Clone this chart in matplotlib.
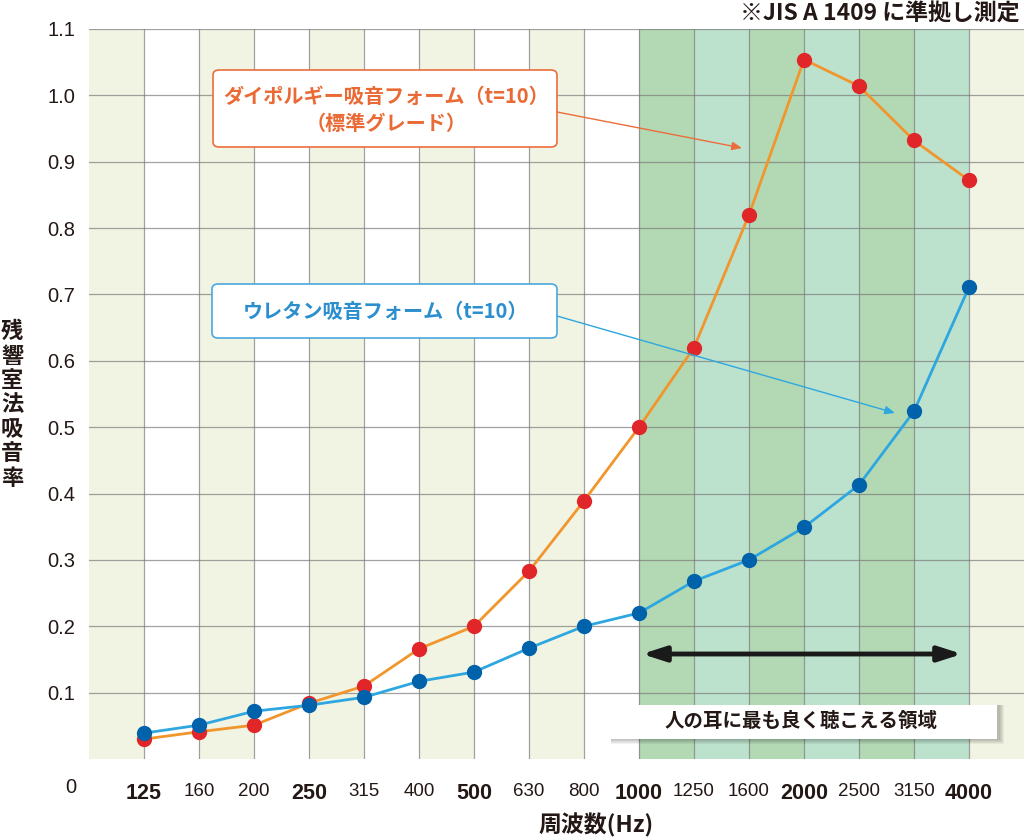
import numpy as np
import matplotlib
matplotlib.use('Agg')
import matplotlib.pyplot as plt
from matplotlib.patches import FancyBboxPatch, Rectangle, FancyArrowPatch

plt.rcParams['font.family'] = ['Noto Sans CJK JP', 'DejaVu Sans']
num_font = ['Liberation Sans', 'DejaVu Sans']

# data
freqs = ['125', '160', '200', '250', '315', '400', '500', '630', '800',
         '1000', '1250', '1600', '2000', '2500', '3150', '4000']
bold_freqs = ['125', '250', '500', '1000', '2000', '4000']
dipolgy = [0.030, 0.041, 0.051, 0.084, 0.110, 0.166, 0.200, 0.283, 0.389,
           0.500, 0.620, 0.820, 1.054, 1.014, 0.932, 0.872]
urethane = [0.039, 0.051, 0.072, 0.081, 0.093, 0.117, 0.131, 0.167, 0.200,
            0.220, 0.268, 0.300, 0.349, 0.413, 0.524, 0.711]
yticks = [0.1, 0.2, 0.3, 0.4, 0.5, 0.6, 0.7, 0.8, 0.9, 1.0, 1.1]

W, H = 1024, 838
fig = plt.figure(figsize=(W / 100, H / 100), dpi=100)
ax = fig.add_axes([89 / W, (H - 759) / H, (W - 89) / W, (759 - 29) / H])

x = np.arange(len(freqs))
ax.set_xlim(-1, len(freqs))
ax.set_ylim(0, 1.1)

# background bands
olive = '#f2f4e3'
green = '#b3d9b4'
teal = '#bce1cd'
for i in range(-1, len(freqs)):
    if 9 <= i < 15:
        c = green if (i - 9) % 2 == 0 else teal
    elif i % 2 == 1 or i == -1:
        c = olive
    else:
        c = 'white'
    ax.axvspan(i, i + 1, color=c, lw=0, zorder=0)

# grid
for i in x:
    ax.axvline(i, color='#7a7a7a', lw=0.9, alpha=0.7, zorder=1)
for v in yticks:
    ax.axhline(v, color='#7a7a7a', lw=0.9, alpha=0.7, zorder=1)

for s in ax.spines.values():
    s.set_visible(False)
ax.tick_params(length=0)

ax.set_yticks(yticks)
ax.set_yticklabels(['%.1f' % v for v in yticks], fontsize=14.5, color='#231815',
                   family=num_font)
ax.tick_params(axis='y', pad=10)
ax.set_xticks(x)
ax.set_xticklabels(freqs, color='#231815', family=num_font)
for lab in ax.get_xticklabels():
    if lab.get_text() in bold_freqs:
        lab.set_fontweight('bold')
        lab.set_fontsize(15.5)
    else:
        lab.set_fontsize(13.5)
ax.tick_params(axis='x', pad=17)

fig.text(71 / W, 1 - 787 / H, '0', fontsize=14.5, color='#231815', ha='center', va='center',
         family=num_font)
fig.text(596 / W, 1 - 825 / H, '周波数(Hz)', fontsize=16.5, fontweight='bold',
         color='#231815', ha='center', va='center')
fig.text(12 / W, 1 - 405 / H, '\n'.join('残響室法吸音率'), fontsize=16, fontweight='bold',
         color='#231815', ha='center', va='center', linespacing=1.08)
fig.text(1019 / W, 1 - 14 / H, '※JIS A 1409 に準拠し測定', fontsize=16.5, fontweight='bold',
         color='#231815', ha='right', va='center')

# lines
ax.plot(x, dipolgy, color='#f0962d', lw=2, zorder=3)
ax.plot(x, dipolgy, 'o', color='#e1262a', ms=10, zorder=4)
ax.plot(x, urethane, color='#2ea7e0', lw=2, zorder=3)
ax.plot(x, urethane, 'o', color='#0062aa', ms=10, zorder=4)

# callout boxes (figure pixel coords)
def px(xp, yp):
    return (xp / W, 1 - yp / H)

def box(x0, y0, x1, y1, ec, fc='white', lw=1.2, r=0.006):
    p = FancyBboxPatch(px(x0, y1), (x1 - x0) / W, (y1 - y0) / H,
                       boxstyle='round,pad=0,rounding_size=%f' % r,
                       transform=fig.transFigure, fc=fc, ec=ec, lw=lw, zorder=5)
    fig.patches.append(p)

box(213, 70, 557, 147, '#ec6d3c')
fig.text(*px(386, 96), 'ダイポルギー吸音フォーム（t=10）', fontsize=14.5, fontweight='bold',
         color='#ea6a35', ha='center', va='center', zorder=6)
fig.text(*px(386, 123), '（標準グレード）', fontsize=14.5, fontweight='bold',
         color='#ea6a35', ha='center', va='center', zorder=6)
fig.add_artist(FancyArrowPatch(
    px(557, 112), px(742, 148), transform=fig.transFigure,
    arrowstyle='-|>,head_length=6,head_width=2.5', color='#ec6d3c', lw=1, zorder=6,
    shrinkA=0, shrinkB=0))

box(212, 284, 557, 338, '#4aa8dc')
fig.text(*px(386, 311), 'ウレタン吸音フォーム（t=10）', fontsize=14.5, fontweight='bold',
         color='#2b8fcf', ha='center', va='center', zorder=6)
fig.add_artist(FancyArrowPatch(
    px(557, 316), px(895, 413), transform=fig.transFigure,
    arrowstyle='-|>,head_length=6,head_width=2.5', color='#2ea7e0', lw=1, zorder=6,
    shrinkA=0, shrinkB=0))

# hearing range arrow
fig.add_artist(FancyArrowPatch(
    px(642, 654), px(962, 654), transform=fig.transFigure,
    arrowstyle='<|-|>,head_length=14,head_width=4.5', color='#1a1a1a', lw=3.5,
    shrinkA=0, shrinkB=0, zorder=6))

# shadowed label
for k in range(5):
    o = 5 - k
    fig.patches.append(Rectangle(px(609 + 2, 739 + o), (388 + o) / W, (34 + o) / H,
                                 transform=fig.transFigure, fc='black', alpha=0.05, lw=0,
                                 zorder=5))
fig.patches.append(Rectangle(px(609, 739), 388 / W, 34 / H, transform=fig.transFigure,
                             fc='white', lw=0, zorder=5))
fig.text(*px(801, 721), '人の耳に最も良く聴こえる領域', fontsize=14, fontweight='bold',
         color='#231815', ha='center', va='center', zorder=6)

fig.savefig('out.png', dpi=100)
